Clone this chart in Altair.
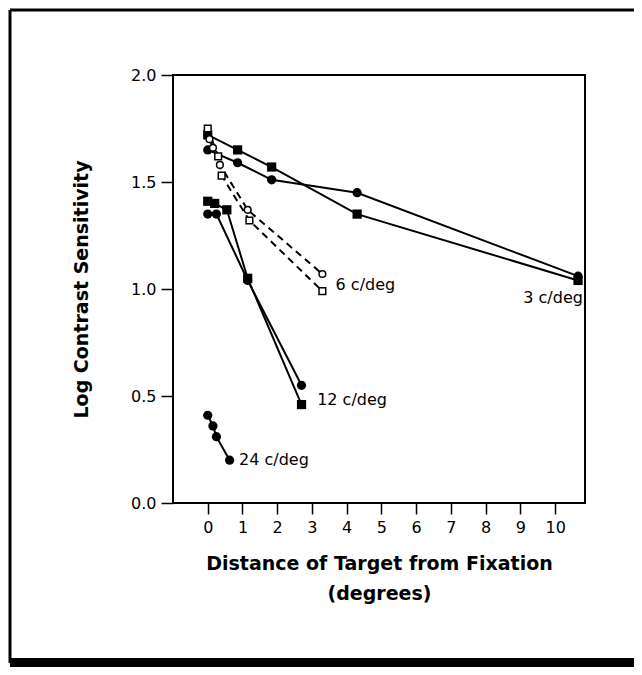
import altair as alt
import pandas as pd

# ---- data ----
s3_circle_x = [0.0, 0.86, 1.84, 4.3, 10.66]
s3_circle_y = [1.65, 1.59, 1.51, 1.45, 1.06]
s3_square_x = [0.0, 0.86, 1.84, 4.3, 10.66]
s3_square_y = [1.72, 1.65, 1.57, 1.35, 1.04]

s6_circle_x = [0.05, 0.15, 0.35, 1.15, 3.3]
s6_circle_y = [1.70, 1.66, 1.58, 1.37, 1.07]
s6_square_x = [0.0, 0.3, 0.4, 1.2, 3.3]
s6_square_y = [1.75, 1.62, 1.53, 1.32, 0.99]

s12_circle_x = [0.0, 0.25, 1.15, 2.7]
s12_circle_y = [1.35, 1.35, 1.04, 0.55]
s12_square_x = [0.0, 0.2, 0.55, 1.15, 2.7]
s12_square_y = [1.41, 1.40, 1.37, 1.05, 0.46]

s24_circle_x = [0.0, 0.15, 0.25, 0.63]
s24_circle_y = [0.41, 0.36, 0.31, 0.20]

label_text = ["6 c/deg", "3 c/deg", "12 c/deg", "24 c/deg"]
label_x = [3.68, 10.8, 3.15, 0.9]
label_y = [1.02, 0.96, 0.48, 0.20]
label_align = ["left", "right", "left", "left"]

x_ticks = [0, 1, 2, 3, 4, 5, 6, 7, 8, 9, 10]
y_ticks = [0.0, 0.5, 1.0, 1.5, 2.0]

# ---- build table ----
rows = []
def add(series, style, marker, xs, ys):
    for xv, yv in zip(xs, ys):
        rows.append(dict(series=series, style=style, marker=marker, x=xv, y=yv))

add("3c", "solid", "fcircle", s3_circle_x, s3_circle_y)
add("3s", "solid", "fsquare", s3_square_x, s3_square_y)
add("6c", "dashed", "ocircle", s6_circle_x, s6_circle_y)
add("6s", "dashed", "osquare", s6_square_x, s6_square_y)
add("12c", "solid", "fcircle", s12_circle_x, s12_circle_y)
add("12s", "solid", "fsquare", s12_square_x, s12_square_y)
add("24c", "solid", "fcircle", s24_circle_x, s24_circle_y)
df = pd.DataFrame(rows)

labels = pd.DataFrame(dict(text=label_text, x=label_x, y=label_y, align=label_align))

FONT = "DejaVu Sans"
W, H = 412, 428
PAD_L, PAD_T = 165, 67
CANVAS_W, CANVAS_H = 626, 659

xs = alt.Scale(domain=[-1, 10.86], nice=False, zero=False)
ys = alt.Scale(domain=[0, 2.0], nice=False, zero=False)

X = alt.X("x:Q", scale=xs, axis=alt.Axis(
    values=x_ticks, format="d", title=["Distance of Target from Fixation", "(degrees)"],
    domain=False, grid=False, tickSize=11, tickWidth=1.5, tickColor="black",
    labelFontSize=16, labelFont=FONT, labelColor="black", labelPadding=5,
    titleFont=FONT, titleFontSize=19, titleFontWeight="bold", titleColor="black",
    titleLineHeight=30, titleBaseline="alphabetic", titleY=66, titleX=W / 2))
Y = alt.Y("y:Q", scale=ys, axis=alt.Axis(
    values=y_ticks, format=".1f", title="Log Contrast Sensitivity",
    domain=False, grid=False, tickSize=12, tickWidth=1.5, tickColor="black",
    labelFontSize=16, labelFont=FONT, labelColor="black", labelPadding=5,
    titleFont=FONT, titleFontSize=19, titleFontWeight="bold", titleColor="black",
    titleAngle=270, titleX=-92, titleY=H / 2, titleAlign="center", titleBaseline="middle"))

base = alt.Chart(df)

solid = base.transform_filter(alt.datum.style == "solid").mark_line(
    color="black", strokeWidth=2).encode(x=X, y=Y, detail="series:N", order="x:Q")
dashed = base.transform_filter(alt.datum.style == "dashed").mark_line(
    color="black", strokeWidth=2, strokeDash=[7, 5]).encode(x=X, y=Y, detail="series:N", order="x:Q")

fcirc = base.transform_filter(alt.datum.marker == "fcircle").mark_point(
    shape="circle", filled=True, color="black", opacity=1, size=85).encode(x=X, y=Y)
fsq = base.transform_filter(alt.datum.marker == "fsquare").mark_point(
    shape="square", filled=True, color="black", opacity=1, size=85).encode(x=X, y=Y)
ocirc = base.transform_filter(alt.datum.marker == "ocircle").mark_point(
    shape="circle", filled=False, fill="white", fillOpacity=1, stroke="black",
    strokeWidth=1.5, opacity=1, size=45).encode(x=X, y=Y)
osq = base.transform_filter(alt.datum.marker == "osquare").mark_point(
    shape="square", filled=False, fill="white", fillOpacity=1, stroke="black",
    strokeWidth=1.5, opacity=1, size=45).encode(x=X, y=Y)

txt_left = alt.Chart(labels).transform_filter(alt.datum.align == "left").mark_text(
    align="left", baseline="middle", font=FONT, fontSize=16, color="black").encode(
    x=X, y=Y, text="text:N")
txt_right = alt.Chart(labels).transform_filter(alt.datum.align == "right").mark_text(
    align="right", baseline="middle", font=FONT, fontSize=16, color="black").encode(
    x=X, y=Y, text="text:N")

# outer page frame (decoration, pixel positions relative to plot origin)
frame_df = pd.DataFrame({"k": [0]})
L = -PAD_L + 2
R = CANVAS_W - PAD_L + 5
TOP = -65
BOT = CANVAS_H - PAD_T - 4
left_b = alt.Chart(frame_df).mark_rule(color="black", strokeWidth=3, clip=False).encode(
    x=alt.value(L), y=alt.value(TOP), y2=alt.value(BOT))
top_b = alt.Chart(frame_df).mark_rule(color="black", strokeWidth=3, clip=False).encode(
    x=alt.value(L), x2=alt.value(R), y=alt.value(TOP))
bot_b = alt.Chart(frame_df).mark_rule(color="black", strokeWidth=10, clip=False).encode(
    x=alt.value(L), x2=alt.value(R), y=alt.value(BOT))

chart = alt.layer(
    solid, dashed, fcirc, fsq, ocirc, osq, txt_left, txt_right, left_b, top_b, bot_b
).properties(
    width=W, height=H,
    autosize=alt.AutoSizeParams(type="none"),
    padding={"left": PAD_L, "top": PAD_T,
             "right": CANVAS_W - PAD_L - W, "bottom": CANVAS_H - PAD_T - H},
    background="white",
).configure_view(stroke="black", strokeWidth=2)

chart.save("out.html", embed_options={"renderer": "svg", "actions": False})
